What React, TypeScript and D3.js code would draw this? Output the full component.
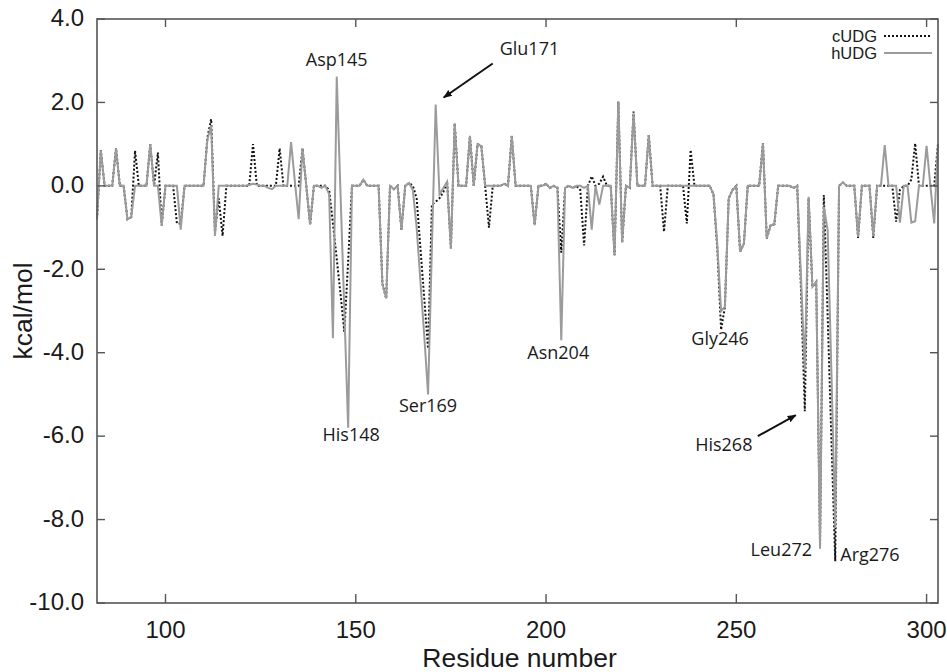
import React from "react";
import * as d3 from "d3";

// residue numbering of the first value in each series
const firstResidue = 82;

// interaction energies per residue, kcal/mol
const hUDG = [
  -0.8, 0.85, 0, 0, 0, 0.9, 0, 0, -0.8, -0.75,
  0, 0, 0, 0, 1.0, 0, 0, -0.95, 0, 0,
  0, 0, -1.05, 0, 0, 0, 0, 0, 0, 1.1,
  1.45, -1.2, 0, 0, 0, 0, 0, 0, 0, 0,
  0.02, 0.05, 0.03, 0, 0, -0.05, -0.08, 0, 0, 0,
  0, 1.05, 0.1, -0.8, 0.9, 0, -0.93, 0, 0, -0.05,
  0, -0.2, -3.65, 2.62, -0.2, -3.0, -5.8, 0, 0, 0,
  0.15, 0, 0, 0, 0, -2.35, -2.7, 0, -0.08, 0,
  -1.05, 0, 0.07, -0.1, -1.0, -2.3, -3.6, -5.0, -1.5, 1.95,
  -0.2, -0.05, 0.1, -1.5, 1.5, 0, 0, 0, 1.2, 0,
  1.0, 0.95, 0, 0, 0, 0, 0, 0.05, 0, 1.2,
  0, 0, 0, 0, 0, -0.94, 0, 0, 0.05, -0.05,
  0, -0.05, -3.7, -0.05, 0, -0.05, 0, 0, -0.05, 0,
  -1.05, 0, -0.45, 0, 0, 0, -1.66, 2.02, -1.36, 0,
  -0.05, 1.74, 0, 0, 0, 1.22, 0, 0, 0, 0,
  0, 0, 0, 0, 0, 0, 0, 0, 0, 0,
  0, 0, -0.2, -1.4, -3.0, -2.9, -0.3, -0.1, 0, -1.58,
  -1.38, 0, 0, 0, 0, 1.02, -1.26, -0.95, -0.92, 0,
  0, 0, 0, -0.05, 0, -2.2, -4.4, -0.26, -2.42, -2.3,
  -8.7, -0.5, -1.06, -4.5, -8.2, 0, 0.08, 0, 0, 0,
  -1.22, 0, 0, 0, -1.2, 0, 0, 0.98, 0, 0,
  0, -0.88, 0, 0, -0.88, -0.85, 0, 0, 0.96, 0,
  -0.9, 1.0,
];

const cUDG = [
  -0.8, 0.85, 0, 0, 0, 0.9, 0, 0, -0.8, -0.75,
  0.84, 0, 0, 0, 1.0, 0, 0.8, -0.95, 0, 0,
  0, -0.9, -0.9, 0, 0, 0, 0, 0, 0, 1.15,
  1.6, -1.1, -0.3, -1.2, 0, 0, 0, 0, 0, 0,
  0, 1.0, 0, 0, 0, 0, 0, 0, 0.9, 0,
  0, 0, 0, 0, 0.9, 0, -0.93, 0, 0, 0,
  0, -0.1, -0.9, -1.75, -2.6, -3.5, -1.8, 0, 0, 0,
  0.15, 0, 0, 0, 0, -2.35, -2.7, 0, -0.08, 0,
  -1.05, 0, 0.07, 0, -0.3, -1.5, -2.7, -3.9, -0.45, -0.38,
  -0.3, -0.15, 0.1, -1.5, 1.5, 0, 0, 0, 1.2, 0,
  1.0, 0.95, 0, -1.0, 0, 0, 0, 0.05, 0, 1.2,
  0, 0, 0, 0, 0, -0.94, 0, 0, 0.05, -0.05,
  0, -0.05, -1.6, -0.05, 0, -0.05, 0, -0.1, -1.43, 0,
  0.23, 0, 0.05, 0.22, 0, 0, -1.66, 2.02, -1.36, 0,
  -0.05, 1.78, 0, 0, 0, 1.22, 0, 0, 0, -1.1,
  0, 0, 0, 0, 0, -0.9, 0.86, 0, 0, 0,
  0, 0, -0.2, -1.5, -3.45, -2.9, -0.3, -0.1, 0, -1.58,
  -1.38, 0, 0, 0, 0, 1.02, -1.26, -0.95, -0.92, 0,
  0, 0, 0, -0.05, 0, -2.5, -5.4, -0.3, -2.42, -2.3,
  -8.6, -0.22, -3.1, -6.1, -9.0, 0, 0.08, 0, 0, 0,
  -1.25, 0, 0, 0, -1.25, 0, 0, 0, 0, 0,
  -0.86, -0.1, 0, 0, 0.15, 1.02, 0, 0, 0, 0,
  0, 1.0,
];

const xTicks = [100, 150, 200, 250, 300];
const yTicks = [-10, -8, -6, -4, -2, 0, 2, 4];
const legendNames = ["cUDG", "hUDG"];

// labelled residues and the series whose spike they point at
const annotations = [
  { text: "Asp145", residue: 145, series: "h" },
  { text: "His148", residue: 148, series: "h" },
  { text: "Ser169", residue: 169, series: "h" },
  { text: "Glu171", residue: 171, series: "h" },
  { text: "Asn204", residue: 204, series: "h" },
  { text: "Gly246", residue: 246, series: "c" },
  { text: "His268", residue: 268, series: "c" },
  { text: "Leu272", residue: 272, series: "h" },
  { text: "Arg276", residue: 276, series: "c" },
];

// where each label sits relative to its spike tip
const labelLayout = {
  Asp145: { dx: 0, dy: -11, anchor: "middle" },
  His148: { dx: 3, dy: 13, anchor: "middle" },
  Ser169: { dx: 0, dy: 18, anchor: "middle" },
  Glu171: { dx: 64, dy: -50, anchor: "start", arrow: [57, -41, 8, -7] },
  Asn204: { dx: -3, dy: 19, anchor: "middle" },
  Gly246: { dx: -1, dy: 15, anchor: "middle" },
  His268: { dx: -81, dy: 40, anchor: "middle", arrow: [-47, 25, -9, 4] },
  Leu272: { dx: -8, dy: 7, anchor: "end" },
  Arg276: { dx: 5, dy: 0, anchor: "start" },
};

const W = 947;
const H = 672;
const frame = { left: 97, right: 938, top: 19, bottom: 603 };
const axisColor = "#555";
const grey = "#9b9b9b";
const sans = "'Liberation Sans', Arial, Helvetica, sans-serif";
const labelFont = "'Open Sans', 'DejaVu Sans', sans-serif";

export default function App() {
  const x = d3.scaleLinear().domain([82, 303]).range([frame.left, frame.right]);
  const y = d3.scaleLinear().domain([-10, 4]).range([frame.bottom, frame.top]);
  const fmt = (t: number) => t.toFixed(1); // plain hyphen minus, as in the figure

  const toPoints = (vals: number[]) => vals.map((v, i) => [firstResidue + i, v] as [number, number]);
  const line = d3.line<[number, number]>().x(d => x(d[0])).y(d => y(d[1]));

  const valueAt = (series: string, r: number) =>
    (series === "h" ? hUDG : cUDG)[r - firstResidue];

  return (
    <div style={{ position: "absolute", left: 0, top: 0 }}>
      <svg width={W} height={H} style={{ display: "block", background: "#fff" }}>
        <defs>
          <marker id="head" viewBox="0 0 10 10" refX="9" refY="5" markerWidth="9" markerHeight="9"
            orient="auto" markerUnits="userSpaceOnUse">
            <path d="M0,1 L10,5 L0,9 z" fill="#111" />
          </marker>
        </defs>

        {/* series: dotted cUDG under solid grey hUDG */}
        <path d={line(toPoints(cUDG)) || ""} fill="none" stroke="#111" strokeWidth={2}
          strokeDasharray="2 2" />
        <path d={line(toPoints(hUDG)) || ""} fill="none" stroke={grey} strokeWidth={2}
          strokeLinejoin="miter" />

        {/* frame */}
        <rect x={frame.left} y={frame.top} width={frame.right - frame.left}
          height={frame.bottom - frame.top} fill="none" stroke={axisColor} strokeWidth={1.6} />

        {/* x ticks, mirrored on top */}
        {xTicks.map(t => (
          <g key={"x" + t}>
            <line x1={x(t)} x2={x(t)} y1={frame.bottom} y2={frame.bottom - 9} stroke={axisColor} strokeWidth={1.4} />
            <line x1={x(t)} x2={x(t)} y1={frame.top} y2={frame.top + 8} stroke={axisColor} strokeWidth={1.4} />
            <text x={x(t)} y={638} textAnchor="middle" fontFamily={sans} fontSize={24} fill="#1a1a1a">{t}</text>
          </g>
        ))}

        {/* y ticks, mirrored on right */}
        {yTicks.map(t => (
          <g key={"y" + t}>
            <line x1={frame.left} x2={frame.left + 8} y1={y(t)} y2={y(t)} stroke={axisColor} strokeWidth={1.4} />
            <line x1={frame.right} x2={frame.right - 8} y1={y(t)} y2={y(t)} stroke={axisColor} strokeWidth={1.4} />
            <text x={84} y={y(t) + 1} textAnchor="end" dominantBaseline="middle" fontFamily={sans}
              fontSize={24} fill="#1a1a1a">{fmt(t)}</text>
          </g>
        ))}

        {/* axis titles */}
        <text x={(frame.left + frame.right) / 2 + 2} y={667} textAnchor="middle" fontFamily={sans}
          fontSize={26.5} fill="#1a1a1a">Residue number</text>
        <text transform={`translate(32,${(frame.top + frame.bottom) / 2}) rotate(-90)`} textAnchor="middle"
          fontFamily={sans} fontSize={26.5} fill="#1a1a1a">kcal/mol</text>

        {/* legend */}
        {legendNames.map((name, i) => (
          <g key={name}>
            <text x={877} y={42 + i * 17} textAnchor="end" fontFamily={sans} fontSize={16.5} fill="#1a1a1a">{name}</text>
            <line x1={884} x2={932} y1={36 + i * 17} y2={36 + i * 17}
              stroke={i === 0 ? "#111" : grey} strokeWidth={i === 0 ? 2 : 2}
              strokeDasharray={i === 0 ? "2 2" : undefined} />
          </g>
        ))}

        {/* residue annotations */}
        {annotations.map(a => {
          const lay = labelLayout[a.text as keyof typeof labelLayout] as any;
          const px = x(a.residue);
          const py = y(valueAt(a.series, a.residue));
          return (
            <g key={a.text}>
              <text x={px + lay.dx} y={py + lay.dy} textAnchor={lay.anchor} fontFamily={labelFont}
                fontSize={18} fill="#1a1a1a">{a.text}</text>
              {lay.arrow && (
                <line x1={px + lay.arrow[0]} y1={py + lay.arrow[1]} x2={px + lay.arrow[2]} y2={py + lay.arrow[3]}
                  stroke="#111" strokeWidth={2} markerEnd="url(#head)" />
              )}
            </g>
          );
        })}
      </svg>
    </div>
  );
}
